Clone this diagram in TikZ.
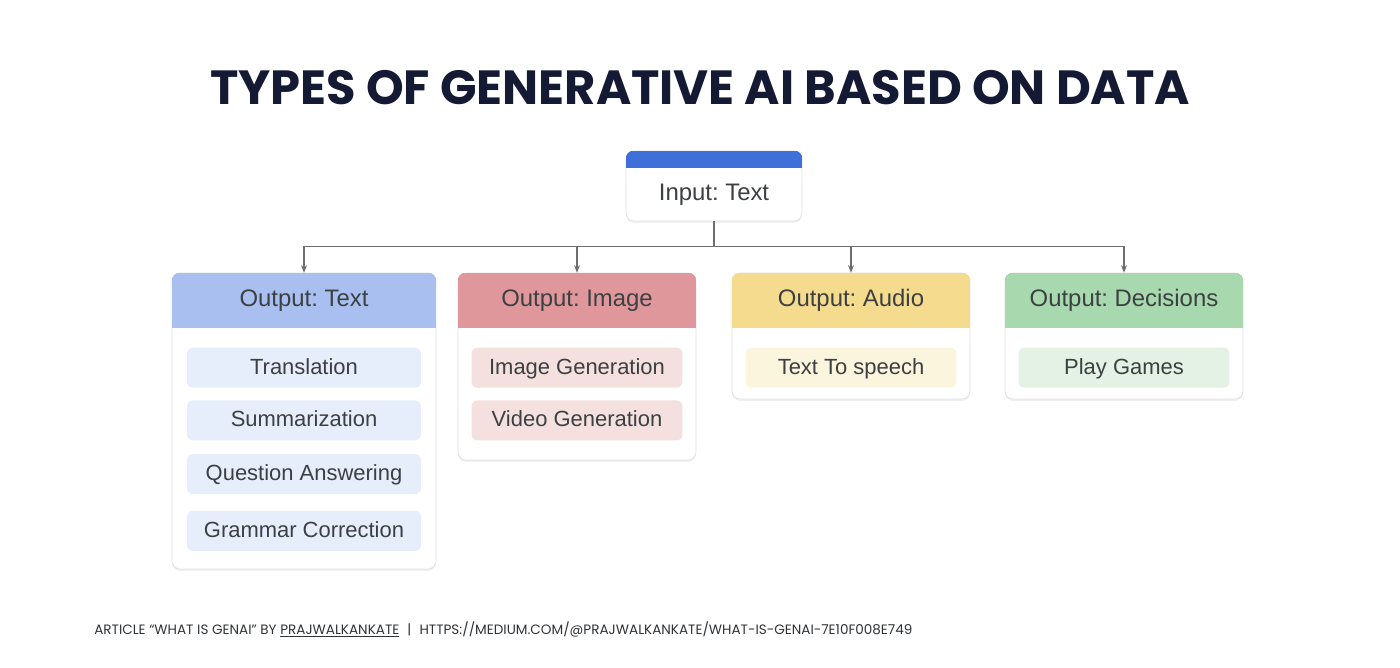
\documentclass[tikz,border=0pt]{standalone}
\usepackage{fontspec}
\setmainfont{Liberation Sans}
\newfontfamily\poppins{Poppins}
\usetikzlibrary{positioning, shadows, arrows.meta}

\definecolor{titlenavy}{RGB}{20,26,51}
\definecolor{boxgray}{RGB}{60,64,67}
\definecolor{linegray}{RGB}{110,110,110}
\definecolor{inputblue}{RGB}{63,111,217}
\definecolor{headblue}{RGB}{168,191,239}
\definecolor{headred}{RGB}{224,151,155}
\definecolor{headyellow}{RGB}{244,219,142}
\definecolor{headgreen}{RGB}{168,217,174}
\definecolor{itemblue}{RGB}{230,237,251}
\definecolor{itemred}{RGB}{245,224,224}
\definecolor{itemyellow}{RGB}{251,245,221}
\definecolor{itemgreen}{RGB}{227,242,229}

\begin{document}
\frenchspacing
\begin{tikzpicture}[
x=0.02cm, y=-0.02cm,
card/.style={rectangle, draw=black!12, fill=white, rounded corners=0.16cm, minimum width=4.76cm, inner sep=0pt, drop shadow={shadow xshift=0pt, shadow yshift=-0.04cm, opacity=0.12}},
head/.style={rectangle, fill=#1, minimum width=4.76cm, minimum height=1.1cm, inner sep=0pt, text height=0.72em, text depth=0pt, text=boxgray, font=\fontsize{13.6}{16}\selectfont},
item/.style={rectangle, fill=#1, rounded corners=0.12cm, minimum width=4.22cm, minimum height=0.8cm, inner sep=0pt, text height=0.72em, text depth=0pt, text=boxgray, font=\fontsize{12.5}{15}\selectfont},
link/.style={draw=linegray, line width=0.7pt, -{Stealth[length=0.15cm, width=0.12cm]}}
]
\useasboundingbox (0,0) rectangle (1400,667);

%Title
\node[text=titlenavy, font=\poppins\bfseries\fontsize{27.3}{33}\selectfont] (heading) at (700,88) {TYPES OF GENERATIVE AI BASED ON DATA};

%Input
\node[card, minimum width=3.52cm, minimum height=1.4cm] (input) at (714,186) {};
\begin{scope}
\clip[rounded corners=0.16cm] (input.south west) rectangle (input.north east);
\node[head=inputblue, minimum width=3.52cm, minimum height=0.34cm, anchor=north] (input_band) at (input.north) {};
\end{scope}
\node[text=boxgray, font=\fontsize{13.6}{16}\selectfont, minimum height=1.06cm, inner sep=0pt] (input_label) [below=0pt of input_band] {Input: Text};

%Cards
\node[card, minimum width=5.28cm, minimum height=5.92cm] (card_text)     at (304,421)   {};
\node[card, minimum height=3.74cm]                       (card_image)    at (577,366.5) {};
\node[card, minimum height=2.52cm]                       (card_audio)    at (851,336)   {};
\node[card, minimum height=2.52cm]                       (card_decision) at (1124,336)  {};

%Headers
\begin{scope}
\clip[rounded corners=0.16cm] (card_text.south west) rectangle (card_text.north east);
\node[head=headblue, minimum width=5.28cm, anchor=north] (head_text) at (card_text.north) {Output: Text};
\end{scope}
\begin{scope}
\clip[rounded corners=0.16cm] (card_image.south west) rectangle (card_image.north east);
\node[head=headred, anchor=north] (head_image) at (card_image.north) {Output: Image};
\end{scope}
\begin{scope}
\clip[rounded corners=0.16cm] (card_audio.south west) rectangle (card_audio.north east);
\node[head=headyellow, anchor=north] (head_audio) at (card_audio.north) {Output: Audio};
\end{scope}
\begin{scope}
\clip[rounded corners=0.16cm] (card_decision.south west) rectangle (card_decision.north east);
\node[head=headgreen, anchor=north] (head_decision) at (card_decision.north) {Output: Decisions};
\end{scope}

%Items
\node[item=itemblue, minimum width=4.68cm] (translation)   [below=0.38cm of head_text]     {Translation};
\node[item=itemblue, minimum width=4.68cm] (summarization) [below=0.24cm of translation]   {Summarization};
\node[item=itemblue, minimum width=4.68cm] (question)      [below=0.26cm of summarization] {Question Answering};
\node[item=itemblue, minimum width=4.68cm] (grammar)       [below=0.32cm of question]      {Grammar Correction};
\node[item=itemred]    (image_gen)  [below=0.38cm of head_image]    {Image Generation};
\node[item=itemred]    (video_gen)  [below=0.24cm of image_gen]     {Video Generation};
\node[item=itemyellow] (tts)        [below=0.38cm of head_audio]    {Text To speech};
\node[item=itemgreen]  (play_games) [below=0.38cm of head_decision] {Play Games};

%Lines
\draw[link] (input.south) -- +(0,25) -| (head_text.north);
\draw[link] (input.south) -- +(0,25) -| (head_image.north);
\draw[link] (input.south) -- +(0,25) -| (head_audio.north);
\draw[link] (input.south) -- +(0,25) -| (head_decision.north);

%Footer
\node[anchor=base west, text=boxgray!80!black, font=\poppins\fontsize{7.72}{10}\selectfont, inner sep=0pt] (credit) at (94,634)
  {ARTICLE “WHAT IS GENAI” BY \underline{PRAJWALKANKATE}\hspace{0.6em}|\hspace{0.6em}HTTPS://MEDIUM.COM/@PRAJWALKANKATE/WHAT-IS-GENAI-7E10F008E749};

\end{tikzpicture}
\end{document}
